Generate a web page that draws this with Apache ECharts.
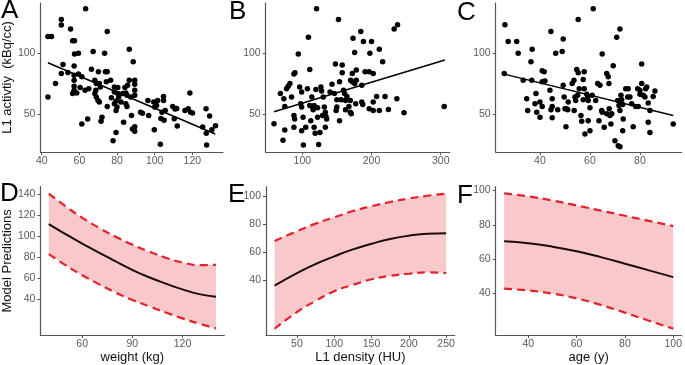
<!DOCTYPE html>
<html>
<head>
<meta charset="utf-8">
<script src="https://cdn.jsdelivr.net/npm/echarts@6/dist/echarts.min.js"></script>
<style>
html,body{margin:0;padding:0;background:#fff;}
#main{width:685px;height:365px;}
</style>
</head>
<body>
<div id="main"></div>
<script>
// scatter: weight (kg) vs L1 activity
var weightActivity = [[43.3,113.9],[45.2,113.9],[43.3,63.9],[47.3,75],[50.4,127.8],[50.4,123.3],[51.3,90.8],[50.4,83.3],[53.9,84.2],[55.3,120],[56.4,110.3],[57.4,110.3],[57.4,99.4],[59.5,100],[57.2,89.4],[57.2,81.9],[57.2,77.8],[57.2,72.8],[57.2,69.4],[56.4,66.7],[58.6,67.2],[59.5,82.8],[60.4,71.7],[61.3,80.6],[63.3,136.7],[61.3,41.7],[64.4,45.8],[63,69.4],[65,70.8],[66.4,86.9],[67.3,101.4],[68.2,77.8],[69,75],[68.2,66.7],[69,63.9],[69.9,61.1],[68.7,69.4],[70.1,84.7],[70.6,75],[70.6,59.7],[71.1,72.2],[71.5,43.9],[72,47.2],[73.4,100],[73.8,84.7],[74.8,84.7],[74.8,118],[74.8,56.1],[74.3,76.4],[76.6,77.8],[77,63.3],[77.9,27.8],[78.6,72.2],[78.6,68],[78.6,58.3],[79.5,60.6],[79.5,34.7],[79.5,52.8],[80.4,71.7],[80.4,66.7],[80.9,63.9],[80,55.6],[82.1,59.7],[83,66.7],[83.5,43],[84.2,71.7],[84.7,67.2],[85.3,65.3],[84.7,58.3],[85.3,56.1],[85.6,73.6],[86.5,103.3],[86.5,77.8],[87.3,63.9],[87.7,48.6],[88.2,37.5],[88.6,93.1],[89.4,77.8],[89.4,74.4],[89.4,69.4],[89.4,65.3],[89.4,39.4],[89.4,35.6],[92.5,51.4],[93.5,50.4],[96.8,48.6],[96.4,61.1],[99.5,59.7],[100,55.6],[99.8,36.8],[101,56.9],[101.6,61.1],[103,24.8],[103.3,46.2],[103.9,51.4],[104.7,64.4],[104.7,61.1],[105,44.8],[105.6,52.8],[109.6,56.1],[110.4,45.9],[110.8,53.9],[112,40],[111.7,54.4],[116.1,52.8],[117.8,54.2],[118.7,67.2],[119.1,51.4],[120.1,50.6],[125.5,39.2],[127.3,54.2],[127.4,34],[127.6,24.2],[129.2,48.2],[130.4,36.8],[132.3,40.2]];
var fitWeight = [[43.3,92.2],[132.2,33.4]];

// scatter: L1 density (HU) vs L1 activity
var densityActivity = [[59,41.9],[68.3,66.7],[72,28.2],[74.6,36.7],[73.2,62.5],[74.6,56.1],[77.1,70.8],[79.5,72.8],[82,75],[84.4,63.9],[87.8,82.8],[89.3,83.9],[87.8,48.6],[88.8,45.8],[87.8,38.9],[94.1,99.4],[96.1,72.2],[97.6,58.3],[99,55.6],[99,36.1],[99,68],[101.5,24.2],[101,47.2],[104.9,38.9],[107.3,70.8],[108.8,113.3],[110.7,56.9],[110.7,86.7],[112.2,44.4],[113.7,63.9],[114.6,55.6],[117,56.9],[115.6,53.3],[117,38.9],[118.5,33.9],[119.5,70],[120.5,136.7],[122,55],[122,47.2],[125.4,34.7],[123.5,24.6],[126.8,72.2],[127.8,68.9],[129.3,48.6],[130.2,63.9],[131.7,55.6],[133.2,51.4],[134.1,47.8],[133.2,38.9],[135.1,45.8],[140,68],[142.9,74.4],[146.3,66.7],[147.8,91.1],[148.8,52.8],[149.8,55.6],[149.8,61.7],[152.2,127.8],[153.7,76.4],[153.7,44.4],[156.1,61.7],[157.6,90.3],[157.6,83.9],[159.5,69.4],[161,66.7],[162.4,61.1],[162.4,53.3],[164.4,64.4],[167.3,56.1],[169.3,61.1],[169.8,77.8],[172.2,76.4],[170.7,50],[169.3,51.4],[172.2,83.3],[173.2,112.5],[175.6,100.6],[175.6,75],[178,77.8],[178,86.1],[177.1,58.3],[184.4,118],[185.9,73.6],[185.9,59.7],[187.3,57.8],[188.3,109.7],[190.7,84.7],[196.6,84.7],[197.6,100],[196.6,54.2],[200,109.7],[202.4,83.3],[202.4,52.8],[202.4,59.7],[207.3,64.4],[211.2,103.3],[211.2,52.8],[216.1,93.1],[219.5,64.4],[224.4,53.6],[232.7,120],[237.6,123.6],[236.6,62.5],[247,51],[305,56.1]];
var fitDensity = [[59,51.8],[306,94.4]];

// scatter: age (y) vs L1 activity
var ageActivity = [[25.7,83.3],[26,123.6],[27.3,109.7],[30.7,109.7],[31.3,100],[33.3,77.8],[34.7,62.5],[35.1,52.8],[36.4,93.1],[36.9,103.3],[36.7,77.8],[38,58.3],[38.4,66.7],[38.7,51.4],[40,59.7],[40,47.2],[40.9,85.6],[41.7,84.7],[40.9,56.1],[40.9,76.4],[42,77.2],[44,69.4],[44.4,118],[44.9,62.5],[44.9,56.1],[44.9,46.7],[44.4,53.3],[46.3,100],[47.1,53.3],[48.9,101.4],[49.3,111.7],[49.3,73.6],[49.7,63.9],[50,54.2],[50.7,54.2],[51.1,53.3],[50.4,39.4],[51.3,59.7],[52.9,75],[53.6,77.8],[53.7,52.8],[54,63.9],[54.3,61.1],[54.7,86.7],[55.3,83.9],[55.3,127.8],[55.1,65.3],[55.7,70.8],[56.4,48.6],[56.7,43.9],[57.3,61.7],[57.7,84.7],[57.3,78.3],[57.7,70.8],[58,33.3],[58.7,66.1],[59.1,63.9],[59.3,61.1],[59.3,44.4],[60,36.1],[60,55],[60.9,65.3],[61.3,136.7],[62.3,61.1],[63.1,75],[64,73.6],[63.6,44.4],[64.7,52.8],[64.9,51.4],[64.9,99.4],[65.7,38.9],[66.7,50],[66.7,83.3],[67.3,80.6],[67.6,75],[67.7,54.2],[68,48.6],[68.4,41.7],[68.7,50],[69.3,89.7],[70,27.8],[70.7,113.3],[71.3,23.6],[72,22.8],[72,120],[71.1,61.1],[71.6,56.9],[72,52.8],[72.4,65.3],[72.7,61.7],[73.1,57.8],[73.1,36.1],[73.3,45.8],[74.3,70.8],[75.1,63.9],[75.3,70.8],[76,63.9],[76.7,58.3],[77.3,39.4],[78.3,56.1],[79.1,70.8],[80,69.4],[80,66.1],[79.3,56.1],[80.7,91.1],[80.7,75],[81.3,65.3],[82,63.9],[82.3,70.8],[82.7,72.2],[83.3,58.9],[84,52.8],[84,34.7],[83.3,43.1],[85.3,64.4],[86,68.9],[93.3,41.7]];
var fitAge = [[25.7,82.8],[93.3,48.6]];

// model predictions
var weightGrid = [40,50,60,70,80,90,100,110,120,130,140];
var weightPred = [111.5,102,93,84.5,76,68,61,55,49.5,45,42.5];
var weightUpper = [140.5,128.5,117.5,108,99.5,92,85.5,79.5,75,72.5,72.8];
var weightLower = [83,72.5,63,54.5,46.5,39.5,33.5,27.5,22,17,12.5];

var densityGrid = [20,50,75,100,125,150,175,200,225,250];
var densityPred = [36,45,51.5,57,62,66,69.5,71.8,73.2,73.5];
var densityUpper = [68,75,80.5,85,89.5,93,96,98.5,100.5,102];
var densityLower = [5,17,25,32,36.5,40.5,43,44.5,45.5,45];

var ageGrid = [30,40,50,60,70,80,90,100];
var agePred = [70.4,69.3,67.3,64.6,61.2,57.4,53.5,49.6];
var ageUpper = [98.3,96.6,94.2,91.3,88.3,85.3,82.3,79.3];
var ageLower = [42.9,41.8,40,37.2,33.4,28.9,24.2,19.6];

// tick labels
var weightTicksTop = [40,60,80,100,120];
var densityTicksTop = [100,200,300];
var ageTicksTop = [40,60,80];
var activityTicks = [50,100];
var weightTicks = [60,90,120];
var densityTicks = [50,100,150,200,250];
var ageTicks = [40,60,80,100];
var predTicksD = [40,60,80,100,120,140];
var predTicks = [40,60,80,100];

var FONT = '"Liberation Sans", Arial, sans-serif';

function pairs(xs, ys) {
	return xs.map(function (x, i) { return [x, ys[i]]; });
}

function axis(gi, min, max, ticks, name, isY) {
	return {
		type: 'value',
		gridIndex: gi,
		min: min,
		max: max,
		z: 10,
		splitLine: { show: false },
		axisLine: { onZero: false, lineStyle: { color: '#555', width: 1.2 } },
		axisTick: { customValues: ticks, length: 3, lineStyle: { color: '#555' } },
		axisLabel: { customValues: ticks, color: '#5a5a5a', fontSize: 10.5, fontFamily: FONT, margin: isY ? 5 : 4 },
		name: name || '',
		nameLocation: 'middle',
		nameGap: isY ? 20 : 14,
		nameTextStyle: { color: '#111', fontSize: 13, fontFamily: FONT }
	};
}

function scatter(i, data, fit) {
	return [{
		type: 'scatter', xAxisIndex: i, yAxisIndex: i,
		data: data, symbolSize: 5.5,
		itemStyle: { color: '#000', opacity: 1 }
	}, {
		type: 'line', xAxisIndex: i, yAxisIndex: i,
		data: fit, symbol: 'none',
		lineStyle: { color: '#000', width: 1.5 }
	}];
}

// pink band: lower bound stacked with the band width (rows are [y, x] so the
// stack runs on the y values)
function band(i, xs, pred, upper, lower) {
	var dash = { color: '#e5212b', width: 2.2, type: [8, 5] };
	var lowRows = xs.map(function (x, k) { return [lower[k], x]; });
	var widthRows = xs.map(function (x, k) { return [upper[k] - lower[k], x]; });
	return [{
		type: 'line', xAxisIndex: i, yAxisIndex: i, stack: 'band' + i,
		data: lowRows, encode: { x: 1, y: 0 }, symbol: 'none', smooth: true,
		lineStyle: { opacity: 0 }
	}, {
		type: 'line', xAxisIndex: i, yAxisIndex: i, stack: 'band' + i,
		data: widthRows, encode: { x: 1, y: 0 }, symbol: 'none', smooth: true,
		lineStyle: { opacity: 0 },
		areaStyle: { color: '#f9c8ca', opacity: 1 }
	}, {
		type: 'line', xAxisIndex: i, yAxisIndex: i,
		data: pairs(xs, upper), symbol: 'none', smooth: true,
		lineStyle: dash
	}, {
		type: 'line', xAxisIndex: i, yAxisIndex: i,
		data: pairs(xs, lower), symbol: 'none', smooth: true,
		lineStyle: dash
	}, {
		type: 'line', xAxisIndex: i, yAxisIndex: i,
		data: pairs(xs, pred), symbol: 'none', smooth: true,
		lineStyle: { color: '#1c0b0b', width: 2 }
	}];
}

function letter(t, x, y) {
	return {
		type: 'text', x: x, y: y, z: 20,
		style: { text: t, fontSize: 26, fontFamily: FONT, fill: '#000', align: 'left', verticalAlign: 'middle' }
	};
}

var chart = echarts.init(document.getElementById('main'));
var option = {
	animation: false,
	backgroundColor: '#fff',
	grid: [
		{ left: 37, top: 3, width: 186, height: 149 },
		{ left: 265.7, top: 3, width: 184, height: 149 },
		{ left: 495.7, top: 3, width: 186, height: 149 },
		{ left: 37.3, top: 186.7, width: 187, height: 148.3 },
		{ left: 266, top: 186.7, width: 188.7, height: 148.3 },
		{ left: 495.7, top: 186.7, width: 186.9, height: 148.3 }
	],
	xAxis: [
		axis(0, 39.3, 136.3, weightTicksTop),
		axis(1, 47, 313, densityTicksTop),
		axis(2, 22.3, 96.7, ageTicksTop),
		axis(3, 35, 145, weightTicks, 'weight (kg)'),
		axis(4, 8.5, 261.5, densityTicks, 'L1 density (HU)'),
		axis(5, 26.5, 103.5, ageTicks, 'age (y)')
	],
	yAxis: [
		axis(0, 18.5, 141.5, activityTicks, 'L1 activtiy  (kBq/cc)', true),
		axis(1, 18.5, 141.5, activityTicks, '', true),
		axis(2, 18.5, 141.5, activityTicks, '', true),
		axis(3, 6.2, 147, predTicksD, 'Model Predictions', true),
		axis(4, 0.5, 107, predTicks, '', true),
		axis(5, 15.9, 102.2, predTicks, '', true)
	],
	graphic: [
		letter('A', 1, 11),
		letter('B', 229, 12),
		letter('C', 457, 12.5),
		letter('D', 0, 194),
		letter('E', 228, 195),
		letter('F', 457, 195.5)
	],
	series: [].concat(
		scatter(0, weightActivity, fitWeight),
		scatter(1, densityActivity, fitDensity),
		scatter(2, ageActivity, fitAge),
		band(3, weightGrid, weightPred, weightUpper, weightLower),
		band(4, densityGrid, densityPred, densityUpper, densityLower),
		band(5, ageGrid, agePred, ageUpper, ageLower)
	)
};
chart.setOption(option);
</script>
</body>
</html>
